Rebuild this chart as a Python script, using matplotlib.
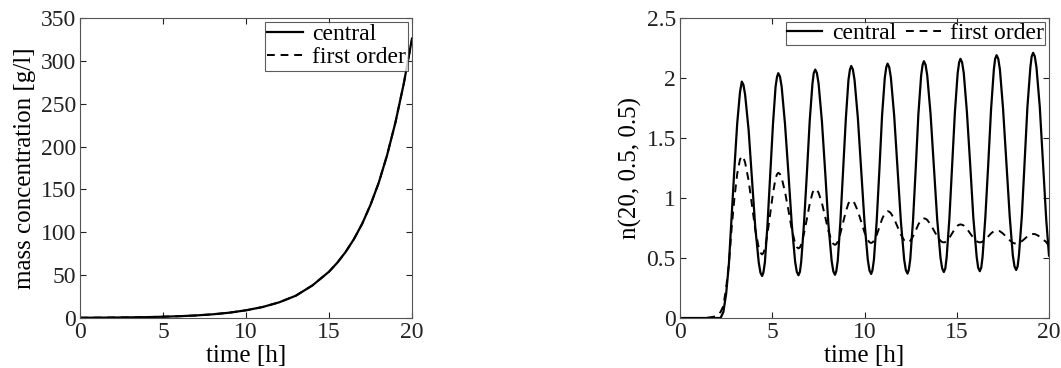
import matplotlib
matplotlib.use('Agg')
import matplotlib.pyplot as plt

plt.rcParams['font.family'] = ['Liberation Serif', 'DejaVu Serif']
plt.rcParams['font.size'] = 17

# mass concentration vs time (both schemes lie on top of each other)
mass_t = [0, 1, 2, 3, 4, 5, 6, 7, 8, 9, 10, 11, 12, 13, 14, 14.5, 15, 15.5,
          16, 16.5, 17, 17.5, 18, 18.5, 19, 19.5, 20]
mass_central = [0.3, 0.4, 0.55, 0.75, 1.0, 1.5, 2.1, 3.0, 4.3, 6.2, 9.0, 12.8,
                18.3, 26, 38, 46, 54, 64.5, 77, 92, 110, 132, 158, 190, 228,
                273, 326]
mass_first = [0.3, 0.4, 0.55, 0.75, 1.0, 1.5, 2.1, 3.0, 4.3, 6.2, 9.0, 12.8,
              18.3, 26, 38, 46, 54, 64.5, 77, 92, 110, 132, 158, 190, 228,
              273, 325]

# number density n(20, 0.5, 0.5) vs time
n_t = [0, 1.4, 1.8, 2.0, 2.2, 2.35, 2.5, 2.65, 2.8, 2.95, 3.1, 3.25, 3.35,
       3.44, 3.53, 3.72, 3.90, 4.08, 4.27, 4.36, 4.45,
       4.52, 4.60, 4.74, 4.89, 5.04, 5.18, 5.26, 5.33,
       5.42, 5.51, 5.69, 5.88, 6.06, 6.24, 6.33, 6.42,
       6.50, 6.57, 6.72, 6.88, 7.03, 7.18, 7.25, 7.33,
       7.42, 7.51, 7.69, 7.87, 8.04, 8.22, 8.31, 8.40,
       8.47, 8.55, 8.69, 8.84, 8.99, 9.13, 9.21, 9.28,
       9.37, 9.46, 9.64, 9.82, 10.00, 10.18, 10.27, 10.36,
       10.43, 10.51, 10.66, 10.81, 10.95, 11.10, 11.18, 11.25,
       11.34, 11.43, 11.61, 11.79, 11.97, 12.15, 12.24, 12.33,
       12.40, 12.48, 12.63, 12.78, 12.92, 13.07, 13.15, 13.22,
       13.31, 13.40, 13.58, 13.76, 13.94, 14.12, 14.21, 14.30,
       14.38, 14.45, 14.60, 14.75, 14.90, 15.05, 15.13, 15.20,
       15.29, 15.38, 15.55, 15.73, 15.90, 16.08, 16.16, 16.25,
       16.33, 16.40, 16.55, 16.71, 16.86, 17.01, 17.08, 17.16,
       17.25, 17.34, 17.51, 17.69, 17.87, 18.04, 18.13, 18.22,
       18.30, 18.37, 18.53, 18.68, 18.83, 18.99, 19.06, 19.14,
       19.23, 19.32, 19.50, 19.67, 19.85, 20.0]
n_central = [0, 0, 0, 0, 0, 0.05, 0.2, 0.45, 0.85, 1.25, 1.62, 1.88, 1.97,
             1.942, 1.86, 1.565, 1.16, 0.755, 0.46, 0.378, 0.35,
             0.379, 0.463, 0.773, 1.195, 1.618, 1.927, 2.011, 2.04,
             2.011, 1.927, 1.619, 1.198, 0.777, 0.469, 0.385, 0.356,
             0.385, 0.471, 0.785, 1.213, 1.642, 1.955, 2.041, 2.07,
             2.041, 1.955, 1.643, 1.215, 0.788, 0.475, 0.389, 0.36,
             0.39, 0.477, 0.795, 1.23, 1.665, 1.983, 2.07, 2.10,
             2.071, 1.984, 1.667, 1.234, 0.80, 0.483, 0.396, 0.367,
             0.397, 0.484, 0.805, 1.244, 1.682, 2.003, 2.09, 2.12,
             2.09, 2.003, 1.683, 1.245, 0.808, 0.487, 0.40, 0.37,
             0.40, 0.489, 0.813, 1.255, 1.698, 2.021, 2.11, 2.14,
             2.11, 2.022, 1.701, 1.262, 0.822, 0.501, 0.413, 0.383,
             0.413, 0.502, 0.827, 1.272, 1.716, 2.041, 2.13, 2.16,
             2.13, 2.041, 1.718, 1.275, 0.833, 0.509, 0.42, 0.39,
             0.421, 0.511, 0.84, 1.29, 1.74, 2.069, 2.159, 2.19,
             2.16, 2.07, 1.743, 1.295, 0.848, 0.52, 0.43, 0.40,
             0.431, 0.521, 0.853, 1.305, 1.758, 2.089, 2.179, 2.21,
             2.18, 2.09, 1.76, 1.31, 0.82, 0.52]
n_first = [0, 0, 0.01, 0.02, 0.05, 0.1, 0.25, 0.45, 0.75, 1.0, 1.2, 1.32, 1.35,
           1.336, 1.295, 1.145, 0.94, 0.735, 0.585, 0.544, 0.53,
           0.542, 0.576, 0.70, 0.87, 1.04, 1.164, 1.198, 1.21,
           1.199, 1.168, 1.052, 0.895, 0.738, 0.622, 0.591, 0.58,
           0.588, 0.613, 0.704, 0.828, 0.951, 1.042, 1.067, 1.075,
           1.067, 1.044, 0.959, 0.843, 0.726, 0.641, 0.618, 0.61,
           0.616, 0.635, 0.703, 0.795, 0.888, 0.955, 0.974, 0.98,
           0.974, 0.956, 0.891, 0.803, 0.714, 0.649, 0.631, 0.625,
           0.63, 0.643, 0.691, 0.758, 0.824, 0.872, 0.885, 0.89,
           0.886, 0.873, 0.825, 0.76, 0.695, 0.647, 0.634, 0.63,
           0.633, 0.643, 0.68, 0.73, 0.78, 0.817, 0.827, 0.83,
           0.827, 0.817, 0.78, 0.73, 0.68, 0.643, 0.633, 0.63,
           0.633, 0.64, 0.668, 0.705, 0.743, 0.77, 0.777, 0.78,
           0.777, 0.77, 0.743, 0.705, 0.668, 0.64, 0.633, 0.63,
           0.632, 0.637, 0.655, 0.68, 0.705, 0.723, 0.728, 0.73,
           0.728, 0.723, 0.703, 0.675, 0.648, 0.627, 0.622, 0.62,
           0.621, 0.625, 0.64, 0.66, 0.68, 0.695, 0.699, 0.70,
           0.699, 0.694, 0.678, 0.655, 0.633, 0.60]

W, H = 1061, 368
fig = plt.figure(figsize=(W / 100, H / 100), dpi=100)
ax1 = fig.add_axes([80 / W, 1 - 318 / H, 332 / W, 300 / H])
ax2 = fig.add_axes([680 / W, 1 - 318 / H, 369 / W, 300 / H])


def style(ax):
    ax.tick_params(direction='in', top=True, right=True, length=4,
                   width=0.8, pad=3, colors='#222222', labelcolor='#222222')
    for s in ax.spines.values():
        s.set_linewidth(0.8)
        s.set_color('#555555')


def frame(leg):
    leg.get_frame().set_edgecolor('#333333')
    leg.get_frame().set_linewidth(0.8)


ax1.plot(mass_t, mass_central, 'k-', lw=1.6, label='central')
ax1.plot(mass_t, mass_first, 'k--', lw=1.4, dashes=(4, 3), label='first order')
ax1.set_xlim(0, 20)
ax1.set_ylim(0, 350)
ax1.set_xticks([0, 5, 10, 15, 20])
ax1.set_yticks(range(0, 351, 50))
ax1.set_xlabel('time [h]', labelpad=1, fontsize=18)
ax1.set_ylabel('mass concentration [g/l]', labelpad=3, fontsize=18)
style(ax1)
frame(ax1.legend(loc='upper right', fontsize=17, frameon=True, fancybox=False,
                 handlelength=1.5, handletextpad=0.4, borderpad=0.1,
                 labelspacing=0.05, borderaxespad=0.15))

ax2.plot(n_t, n_central, 'k-', lw=1.6, label='central')
ax2.plot(n_t, n_first, 'k--', lw=1.4, dashes=(4, 3), label='first order')
ax2.set_xlim(0, 20)
ax2.set_ylim(0, 2.5)
ax2.set_xticks([0, 5, 10, 15, 20])
ax2.set_yticks([0, 0.5, 1, 1.5, 2, 2.5])
ax2.set_yticklabels(['0', '0.5', '1', '1.5', '2', '2.5'])
ax2.set_xlabel('time [h]', labelpad=1, fontsize=18)
ax2.set_ylabel('n(20, 0.5, 0.5)', labelpad=3, fontsize=18)
style(ax2)
frame(ax2.legend(loc='upper right', ncol=2, fontsize=17, frameon=True,
                 fancybox=False, handlelength=1.5, handletextpad=0.4,
                 columnspacing=0.4, borderpad=0.05, borderaxespad=0.15))

fig.savefig('out.png', dpi=100)
